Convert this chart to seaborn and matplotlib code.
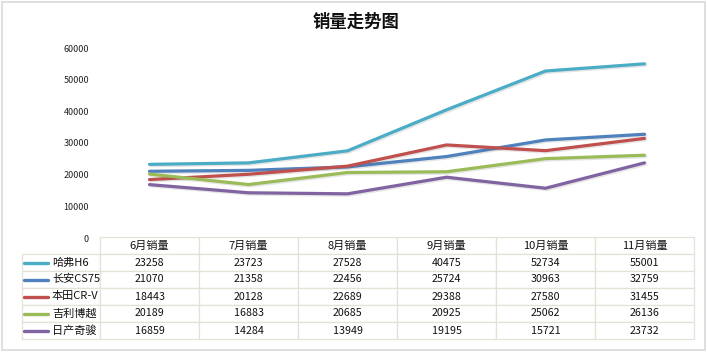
import pandas as pd
import matplotlib
matplotlib.use("Agg")
import matplotlib.pyplot as plt
import matplotlib.patheffects as pe
from matplotlib.patches import Rectangle
import seaborn as sns

# chart data
months = ['6月销量', '7月销量', '8月销量', '9月销量', '10月销量', '11月销量']
models = ['哈弗H6', '长安CS75', '本田CR-V', '吉利博越', '日产奇骏']
haval_h6 = [23258, 23723, 27528, 40475, 52734, 55001]
changan_cs75 = [21070, 21358, 22456, 25724, 30963, 32759]
honda_crv = [18443, 20128, 22689, 29388, 27580, 31455]
geely_boyue = [20189, 16883, 20685, 20925, 25062, 26136]
nissan_xtrail = [16859, 14284, 13949, 19195, 15721, 23732]
colors = ['#4BACC6', '#4F81BD', '#C0504D', '#9BBB59', '#8064A2']
y_ticks = [0, 10000, 20000, 30000, 40000, 50000, 60000]

series = [haval_h6, changan_cs75, honda_crv, geely_boyue, nissan_xtrail]
df = pd.DataFrame({
    'month': months * len(models),
    'model': [m for m in models for _ in months],
    'sales': [v for s in series for v in s],
})

sns.set_style('white')
plt.rcParams['font.family'] = ['Noto Sans CJK SC', 'DejaVu Sans']

W, H = 708, 354
fig = plt.figure(figsize=(W / 100, H / 100), dpi=100)
fig.patch.set_facecolor('white')

# chart frame like an Excel chart object
fig.add_artist(Rectangle((2 / W, 1 - 350 / H), 703 / W, 348 / H, transform=fig.transFigure,
                         fill=False, edgecolor='#D9D9D9', linewidth=1.2))

ax = fig.add_axes([100 / W, 1 - 238 / H, 594 / W, 190 / H])
sns.lineplot(data=df, x='month', y='sales', hue='model', palette=colors,
             linewidth=2.3, legend=False, ax=ax, sort=False)
for line in ax.lines:
    line.set_solid_capstyle('round')
    line.set_path_effects([pe.SimpleLineShadow(offset=(1.0, -1.0), alpha=0.15, shadow_color='#555555'),
                           pe.Normal()])
ax.set_xlim(-0.5, len(months) - 0.5)
ax.set_ylim(0, 60000)
ax.set_yticks(y_ticks)
ax.set_yticklabels([str(t) for t in y_ticks], fontsize=6.5, color='#222222')
ax.tick_params(axis='y', length=0, pad=8)
ax.set_xticks([])
ax.set_xlabel('')
ax.set_ylabel('')
sns.despine(ax=ax, left=True, bottom=True)

fig.text(356 / W, 1 - 22 / H, '销量走势图', ha='center', va='center',
         fontsize=12.5, fontweight='bold', color='#111111')

# data table under the chart
tab_ax = fig.add_axes([22 / W, 1 - 339 / H, 672 / W, 102 / H])
tab_ax.axis('off')
cell_text = [[''] + [str(v) for v in s] for s in series]
col_w = [78 / 672] + [99 / 672] * len(months)
table = tab_ax.table(cellText=cell_text, colLabels=[''] + months, colWidths=col_w,
                     cellLoc='center', bbox=[0, 0, 1, 1])
table.auto_set_font_size(False)
table.set_fontsize(7.7)
for (r, c), cell in table.get_celld().items():
    cell.set_edgecolor('#E4E1D7')
    cell.set_linewidth(0.9)
    cell.get_text().set_color('#111111')
    if r == 0:
        cell.get_text().set_fontsize(8)
    if r == 0 and c == 0:
        cell.visible_edges = ''
n_rows = len(models) + 1
for i, (name, col) in enumerate(zip(models, colors)):
    yc = 1 - (i + 1.5) / n_rows
    tab_ax.plot([2 / 672, 26 / 672], [yc, yc], color=col, linewidth=2.4,
                solid_capstyle='round', transform=tab_ax.transAxes)
    tab_ax.text(30 / 672, yc, name, transform=tab_ax.transAxes, ha='left', va='center',
                fontsize=8.0, color='#111111')

fig.savefig('out.png', dpi=100)
